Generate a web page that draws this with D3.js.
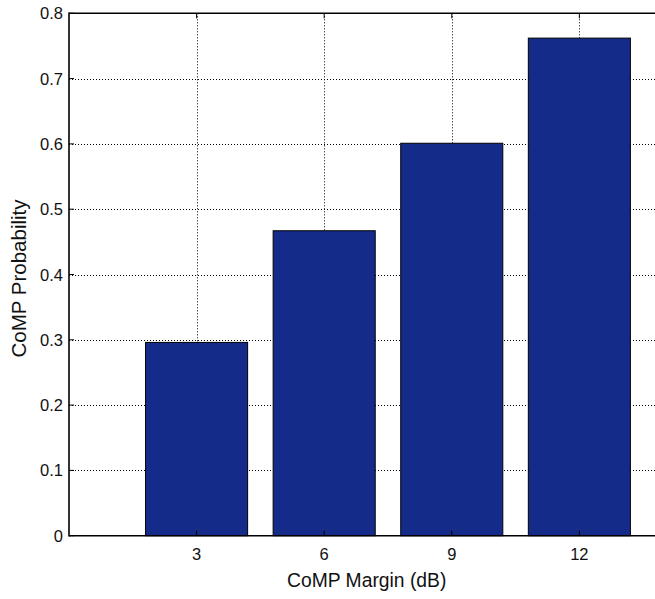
<!DOCTYPE html>
<html>
<head>
<meta charset="utf-8">
<script src="https://cdn.jsdelivr.net/npm/d3@7"></script>
<style>
  html, body { margin: 0; padding: 0; background: #fff; }
  svg { display: block; }
  text { font-family: "Liberation Sans", Arial, Helvetica, sans-serif; fill: #111; }
</style>
</head>
<body>
<svg id="chart" width="655" height="599"></svg>
<script>
const categories = [3, 6, 9, 12];
const probability = [0.296, 0.467, 0.601, 0.762];
const yTicks = [0, 0.1, 0.2, 0.3, 0.4, 0.5, 0.6, 0.7, 0.8];
const xLabel = "CoMP Margin (dB)";
const yLabel = "CoMP Probability";

const svg = d3.select("#chart");
const mLeft = 69, mTop = 13.3, mBottom = 535.7;
const pxPerUnit = 42.53;
const xDomain = [0, 14];
const mRight = mLeft + (xDomain[1] - xDomain[0]) * pxPerUnit;

const x = d3.scaleLinear().domain(xDomain).range([mLeft, mRight]);
const y = d3.scaleLinear().domain([0, 0.8]).range([mBottom, mTop]);
const barWidth = 0.8 * 3;

const g = svg.append("g");

// grid
g.selectAll("line.hgrid").data(yTicks.slice(1, -1)).enter().append("line")
  .attr("x1", mLeft).attr("x2", mRight)
  .attr("y1", d => Math.round(y(d)) + 0.5).attr("y2", d => Math.round(y(d)) + 0.5)
  .attr("stroke", "#000").attr("stroke-width", 1)
  .attr("stroke-dasharray", "1,2");
g.selectAll("line.vgrid").data(categories).enter().append("line")
  .attr("x1", d => Math.round(x(d)) + 0.5).attr("x2", d => Math.round(x(d)) + 0.5)
  .attr("y1", mTop).attr("y2", mBottom)
  .attr("stroke", "#000").attr("stroke-width", 1)
  .attr("stroke-dasharray", "1,2");

// bars
g.selectAll("rect.bar").data(categories).enter().append("rect")
  .attr("x", d => x(d - barWidth / 2))
  .attr("width", d => x(d + barWidth / 2) - x(d - barWidth / 2))
  .attr("y", (d, i) => y(probability[i]))
  .attr("height", (d, i) => mBottom - y(probability[i]))
  .attr("fill", "#152b8a")
  .attr("stroke", "#000").attr("stroke-width", 1);

// axes lines
g.append("line").attr("x1", mLeft).attr("x2", mRight).attr("y1", mBottom).attr("y2", mBottom)
  .attr("stroke", "#000").attr("stroke-width", 1.6);
g.append("line").attr("x1", mLeft).attr("x2", mRight).attr("y1", mTop).attr("y2", mTop)
  .attr("stroke", "#000").attr("stroke-width", 1.6);
g.append("line").attr("x1", mLeft).attr("x2", mLeft).attr("y1", mTop - 0.8).attr("y2", mBottom + 0.8)
  .attr("stroke", "#000").attr("stroke-width", 1.6);

// ticks (inward)
const tl = 5;
g.selectAll("line.yt").data(yTicks).enter().append("line")
  .attr("x1", mLeft).attr("x2", mLeft + tl)
  .attr("y1", d => y(d)).attr("y2", d => y(d))
  .attr("stroke", "#000").attr("stroke-width", 1);
g.selectAll("line.xtb").data(categories).enter().append("line")
  .attr("x1", d => x(d)).attr("x2", d => x(d))
  .attr("y1", mBottom).attr("y2", mBottom - tl)
  .attr("stroke", "#000").attr("stroke-width", 1);
g.selectAll("line.xtt").data(categories).enter().append("line")
  .attr("x1", d => x(d)).attr("x2", d => x(d))
  .attr("y1", mTop).attr("y2", mTop + tl)
  .attr("stroke", "#000").attr("stroke-width", 1);

// tick labels
g.selectAll("text.yl").data(yTicks).enter().append("text")
  .attr("x", mLeft - 6).attr("y", d => y(d) + 6)
  .attr("text-anchor", "end").attr("font-size", 16.5)
  .text(d => d === 0 ? "0" : d3.format(".1f")(d));
g.selectAll("text.xl").data(categories).enter().append("text")
  .attr("x", d => x(d)).attr("y", 560)
  .attr("text-anchor", "middle").attr("font-size", 16.5)
  .text(d => d);

// axis labels
svg.append("text").attr("x", (mLeft + mRight) / 2).attr("y", 587)
  .attr("text-anchor", "middle").attr("font-size", 19.3).text(xLabel);
svg.append("text")
  .attr("transform", `translate(26,${(mTop + mBottom) / 2 + 4}) rotate(-90)`)
  .attr("text-anchor", "middle").attr("font-size", 20.5).text(yLabel);
</script>
</body>
</html>
